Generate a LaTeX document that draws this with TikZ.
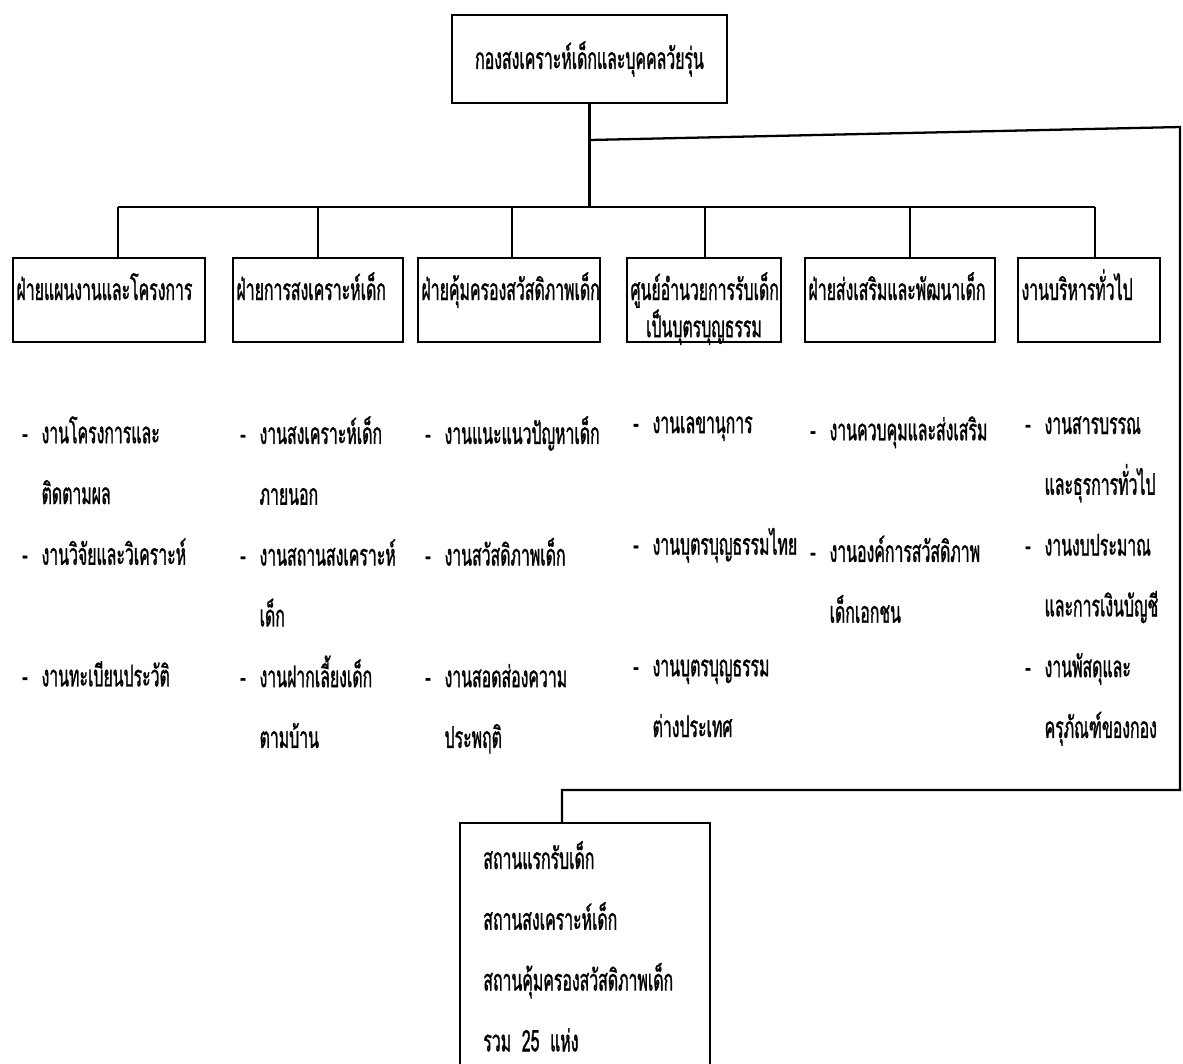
\documentclass[tikz,border=0pt]{standalone}
\usepackage{fontspec}
\newfontfamily\thaifont[Script=Thai,FakeStretch=0.53,FakeBold=1]{Loma}
\newcommand\headfont{\thaifont\fontsize{17}{19}\selectfont}
\newcommand\taskfont{\thaifont\fontsize{17}{34.6}\selectfont}
\newcommand\taskdash{-\hspace{0.28cm}}
\newcommand\taskgap{\phantom{\taskdash}}
\usetikzlibrary{positioning}

\tikzset{
  link/.style={line width=1.3pt},
  office/.style={draw, link, minimum width=5.5cm, minimum height=1.76cm, font=\headfont},
  unit/.style={draw, link, text width=#1, minimum height=1.68cm, inner sep=2pt, align=left,
    text height=0.45cm, text depth=0.45cm, font=\headfont},
  task/.style={anchor=north west, inner sep=0pt, align=left, font=\taskfont,
    execute at begin node={\rule{0pt}{0.65cm}}},
  home/.style={draw, link, anchor=north, minimum width=5cm, minimum height=5cm},
}

\begin{document}
\begin{tikzpicture}[x=0.02cm, y=-0.02cm]
    \useasboundingbox (0,0) rectangle (1183,1063);

    %nodes
    \node[office] (kong) at (589.5,59) {กองสงเคราะห์เด็กและบุคคลวัยรุ่น};
    \node[unit=3.70cm] (plan) at (109,300) {ฝ่ายแผนงานและโครงการ};
    \node[unit=3.26cm] (child) at (318,300) {ฝ่ายการสงเคราะห์เด็ก};
    \node[unit=3.50cm] (guard) at (509,300) {ฝ่ายคุ้มครองสวัสดิภาพเด็ก};
    \node[unit=2.94cm, align=center] (adopt) at (704,300) {ศูนย์อำนวยการรับเด็ก\\เป็นบุตรบุญธรรม};
    \node[unit=3.66cm] (promo) at (900,300) {ฝ่ายส่งเสริมและพัฒนาเด็ก};
    \node[unit=2.70cm] (admin) at (1089,300) {งานบริหารทั่วไป};

    % tasks
    \node[task] (tplan) at (22,416) {\taskdash งานโครงการและ\\\taskgap ติดตามผล\\\taskdash งานวิจัยและวิเคราะห์\\\mbox{}\\\taskdash งานทะเบียนประวัติ};
    \node[task] (tchild) at (240,416) {\taskdash งานสงเคราะห์เด็ก\\\taskgap ภายนอก\\\taskdash งานสถานสงเคราะห์\\\taskgap เด็ก\\\taskdash งานฝากเลี้ยงเด็ก\\\taskgap ตามบ้าน};
    \node[task] (tguard) at (425,416) {\taskdash งานแนะแนวปัญหาเด็ก\\\mbox{}\\\taskdash งานสวัสดิภาพเด็ก\\\mbox{}\\\taskdash งานสอดส่องความ\\\taskgap ประพฤติ};
    \node[task] (tadopt) at (633,416) {\taskdash งานเลขานุการ\\\mbox{}\\\taskdash งานบุตรบุญธรรมไทย\\\mbox{}\\\taskdash งานบุตรบุญธรรม\\\taskgap ต่างประเทศ};
    \node[task] (tpromo) at (810,416) {\taskdash งานควบคุมและส่งเสริม\\\mbox{}\\\taskdash งานองค์การสวัสดิภาพ\\\taskgap เด็กเอกชน};
    \node[task] (tadmin) at (1025,416) {\taskdash งานสารบรรณ\\\taskgap และธุรการทั่วไป\\\taskdash งานงบประมาณ\\\taskgap และการเงินบัญชี\\\taskdash งานพัสดุและ\\\taskgap ครุภัณฑ์ของกอง};

    \node[home] (home) at (585,822) {};
    \node[task] (homelist) at (483,841) {สถานแรกรับเด็ก\\สถานสงเคราะห์เด็ก\\สถานคุ้มครองสวัสดิภาพเด็ก\\รวม\ \ 25\ \ แห่ง};

    % edges
    \coordinate (bus) at (0,207);
    \coordinate (fork) at (0,140);
    \coordinate (rim) at (1180,127);
    \coordinate (turn) at (562,790);
    \draw[link] (kong) -- (kong.south |- bus);
    \draw[link] ([xshift=0.18cm]plan.north |- bus) -- ([xshift=0.12cm]admin.north |- bus);
    \foreach \u/\dx in {plan/0.18cm, child/0cm, guard/0.06cm, adopt/0.02cm, promo/0.2cm, admin/0.12cm}
        \draw[link] ([xshift=\dx]\u.north) -- ([xshift=\dx]\u.north |- bus);
    \draw[link] (kong.south |- fork) -- (rim) -- (rim |- turn) -- (turn) -- (home.north -| turn);
\end{tikzpicture}
\end{document}
